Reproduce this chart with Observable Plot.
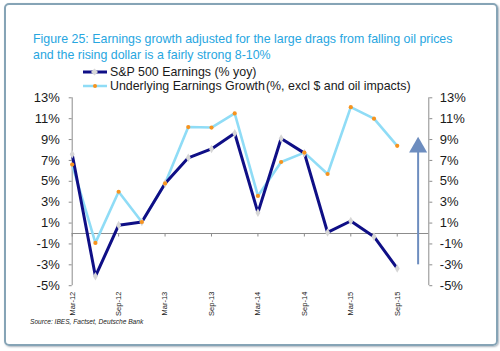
<!DOCTYPE html>
<html>
<head>
<meta charset="utf-8">
<script src="https://cdn.jsdelivr.net/npm/d3@7"></script>
<script src="https://cdn.jsdelivr.net/npm/@observablehq/plot@0.6"></script>
<style>
  html, body { margin: 0; padding: 0; background: #fff; }
  body { width: 500px; height: 351px; position: relative; overflow: hidden; font-family: "Liberation Sans", Arial, sans-serif; }
  #frame { position: absolute; left: 4px; top: 3px; width: 490px; height: 339px; border: 2px solid #86a4b6; border-radius: 5px; box-shadow: 1px 1px 2px rgba(90,110,130,0.5); }
  #title { position: absolute; left: 33px; top: 31px; font-size: 12.4px; line-height: 16px; color: #27a6df; white-space: nowrap; }
  .leg { position: absolute; font-size: 12.4px; color: #1a1a1a; white-space: nowrap; line-height: 14px; }
  .leg svg { position: absolute; left: -27px; top: 1px; }
  #chart { position: absolute; left: 0; top: 90px; }
  #source { position: absolute; left: 30px; top: 318px; font-size: 6.6px; font-style: italic; color: #222; white-space: nowrap; }
</style>
</head>
<body>
<div id="frame"></div>
<div id="title">Figure 25: Earnings growth adjusted for the large drags from falling oil prices<br>and the rising dollar is a fairly strong 8-10%</div>
<div class="leg" style="left:110px; top:65px;"><svg width="26" height="12"><line x1="0" y1="6" x2="24" y2="6" stroke="#0f0f86" stroke-width="3"/><rect x="9" y="3.5" width="5" height="5" fill="#d8d8d8" transform="rotate(45 11.5 6)"/></svg>S&amp;P 500 Earnings (% yoy)</div>
<div class="leg" style="left:110px; top:79px;"><svg width="26" height="12"><line x1="0" y1="6" x2="24" y2="6" stroke="#8fdcf6" stroke-width="2.5"/><circle cx="12" cy="6" r="2" fill="#f7931e"/></svg>Underlying Earnings Growth<span style="margin-left:1px">(%, excl $ and oil impacts)</span></div>
<div id="chart"></div>
<div id="source">Source: IBES, Factset, Deutsche Bank</div>
<script>
const quarters = ["Mar-12","Jun-12","Sep-12","Dec-12","Mar-13","Jun-13","Sep-13","Dec-13","Mar-14","Jun-14","Sep-14","Dec-14","Mar-15","Jun-15","Sep-15"];
const spEarnings = [7.6, -4.1, 0.8, 1.1, 4.8, 7.25, 8.1, 9.6, 2.0, 9.1, 7.7, 0.1, 1.2, -0.3, -3.35];
const underlying = [6.6, -0.9, 4.0, 1.1, 4.8, 10.2, 10.15, 11.5, 3.6, 6.85, 7.75, 5.7, 12.1, 11.0, 8.4];
const yTicks = [-5, -3, -1, 1, 3, 5, 7, 9, 11, 13];
const xTickIdx = [0, 2, 4, 6, 8, 10, 12, 14];
const arrowX = [14.9];
const arrowShaft = [-3.0, 7.8];
const arrowHead = [8.26];

const sp = quarters.map((q, i) => ({i, q, v: spEarnings[i]}));
const ul = quarters.map((q, i) => ({i, q, v: underlying[i]}));
const xMax = 15.36;
const axisGrey = "#8c8c8c";

const chart = Plot.plot({
  width: 500,
  height: 230,
  marginLeft: 71.7,
  marginRight: 71.7,
  marginTop: 7.3,
  marginBottom: 34.8,
  style: {fontFamily: "'Liberation Sans', Arial, sans-serif", color: "#1a1a1a", background: "transparent"},
  x: {type: "linear", domain: [0, xMax], axis: null, label: null},
  y: {domain: [-5, 13], axis: null, label: null},
  marks: [
    Plot.ruleY([0], {stroke: axisGrey, strokeWidth: 1}),
    Plot.ruleX([0], {stroke: axisGrey, strokeWidth: 1}),
    Plot.ruleX([xMax], {stroke: axisGrey, strokeWidth: 1}),
    Plot.axisY({anchor: "left", label: null, ticks: yTicks, tickFormat: d => d + "%", tickSize: 3, tickPadding: 9.5, fontSize: 13, stroke: axisGrey}),
    Plot.axisY({anchor: "right", label: null, ticks: yTicks, tickFormat: d => d + "%", tickSize: 3, tickPadding: 8, fontSize: 13, stroke: axisGrey}),
    Plot.ruleX(xTickIdx, {x: d => d, y1: 0, y2: 0, insetBottom: -3.5, stroke: axisGrey}),
    Plot.axisX({anchor: "bottom", label: null, ticks: xTickIdx, tickFormat: i => quarters[i], tickSize: 0, tickPadding: 6, tickRotate: -90, fontSize: 7.5}),
    Plot.line(ul, {x: "i", y: "v", stroke: "#8fdcf6", strokeWidth: 2.6}),
    Plot.line(sp, {x: "i", y: "v", stroke: "#0f0f86", strokeWidth: 3}),
    Plot.dot(sp, {x: "i", y: "v", symbol: "diamond", r: 2.6, fill: "#d6d6d6"}),
    Plot.dot(ul, {x: "i", y: "v", r: 2.1, fill: "#f7931e"}),
    Plot.ruleX(arrowX, {x: d => d, y1: arrowShaft[0], y2: arrowShaft[1], stroke: "#6d8dbf", strokeWidth: 2}),
    Plot.dot(arrowX, {x: d => d, y: arrowHead[0], symbol: "triangle", r: 6.7, fill: "#6d8dbf"})
  ]
});
document.getElementById("chart").appendChild(chart);
</script>
</body>
</html>
